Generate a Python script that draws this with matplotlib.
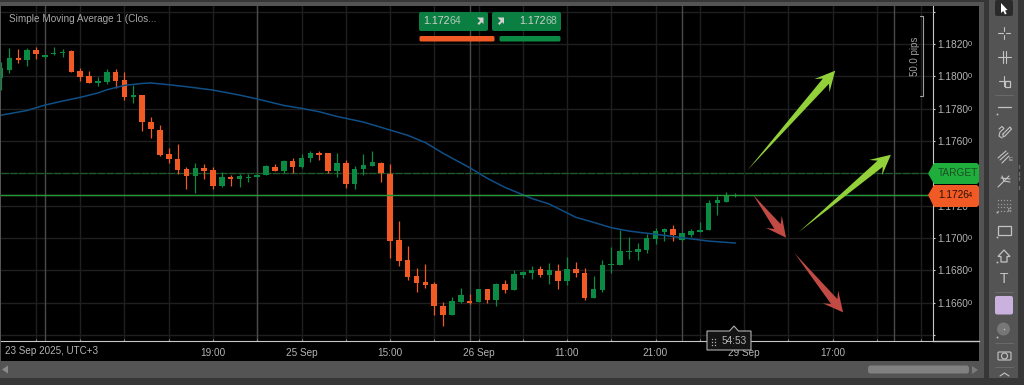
import numpy as np
import matplotlib
matplotlib.use('Agg')
import matplotlib.pyplot as plt
from matplotlib.patches import FancyBboxPatch, Polygon, Rectangle, Circle

plt.rcParams['font.family'] = ['Liberation Sans', 'DejaVu Sans']

# candle values, one entry per bar, in units of 1e-5 price
opens = [117987, 118039, 118113, 118101, 118163, 118119, 118140, 118142, 118157, 118035,
         118000, 117961, 117965, 118025, 117977, 117872, 117884, 117719, 117670, 117519,
         117490, 117427, 117385, 117433, 117418, 117321, 117375, 117365, 117373, 117379,
         117389, 117441, 117416, 117476, 117441, 117495, 117526, 117523, 117416, 117462,
         117332, 117427, 117447, 117466, 117398, 116985, 116864, 116765, 116728, 116713,
         116581, 116524, 116604, 116610, 116606, 116682, 116616, 116717, 116678, 116773,
         116781, 116806, 116771, 116796, 116732, 116810, 116785, 116631, 116678, 116835,
         116835, 116913, 116913, 116926, 116994, 117039, 117058, 116985, 117018, 117039,
         117049, 117214, 117225, 117260]
highs = [118091, 118177, 118167, 118177, 118181, 118132, 118181, 118167, 118161, 118049,
         118035, 117994, 118043, 118043, 118027, 117948, 117886, 117748, 117699, 117554,
         117579, 117437, 117466, 117457, 117437, 117406, 117389, 117396, 117398, 117396,
         117451, 117455, 117482, 117495, 117521, 117540, 117536, 117528, 117523, 117482,
         117445, 117520, 117538, 117470, 117458, 117105, 116950, 116814, 116839, 116726,
         116604, 116633, 116693, 116653, 116686, 116684, 116719, 116742, 116802, 116796,
         116827, 116827, 116843, 116839, 116882, 116851, 116814, 116765, 116864, 116946,
         117049, 117004, 116971, 117025, 117060, 117064, 117078, 117033, 117058, 117097,
         117233, 117260, 117287, 117280]
lows = [117915, 118022, 118080, 118066, 118107, 118113, 118132, 118119, 118025, 117971,
        117958, 117942, 117954, 117926, 117855, 117837, 117662, 117616, 117507, 117462,
        117394, 117301, 117280, 117365, 117301, 117317, 117321, 117317, 117344, 117377,
        117387, 117412, 117404, 117402, 117435, 117470, 117484, 117402, 117379, 117311,
        117305, 117390, 117445, 117346, 116876, 116829, 116738, 116668, 116691, 116524,
        116456, 116522, 116596, 116592, 116604, 116598, 116581, 116662, 116676, 116752,
        116746, 116761, 116717, 116684, 116709, 116761, 116616, 116627, 116668, 116781,
        116833, 116872, 116864, 116909, 116961, 116983, 116981, 116983, 117008, 117037,
        117047, 117142, 117223, 117256]
closes = [118049, 118111, 118103, 118163, 118138, 118130, 118146, 118148, 118029, 117996,
          117961, 117971, 118025, 117971, 117870, 117884, 117715, 117672, 117513, 117490,
          117422, 117385, 117433, 117412, 117321, 117377, 117365, 117383, 117379, 117389,
          117447, 117416, 117476, 117441, 117495, 117526, 117515, 117416, 117462, 117332,
          117425, 117451, 117470, 117400, 116981, 116860, 116761, 116724, 116709, 116577,
          116524, 116610, 116649, 116596, 116684, 116616, 116717, 116678, 116777, 116790,
          116804, 116771, 116802, 116732, 116808, 116785, 116631, 116684, 116835, 116839,
          116917, 116919, 116932, 117000, 117043, 117058, 117018, 117029, 117043, 117049,
          117216, 117233, 117266, 117264]

# moving average, read at these bars
ma_bars = [0, 3, 5, 7, 9, 11, 12, 14, 16, 17, 19, 21, 24, 27, 29, 32, 34, 36, 38, 41, 44, 46, 48,
           50, 53, 55, 57, 60, 62, 65, 67, 69, 71, 74, 77, 80, 83]
ma_vals = [117759, 117789, 117822, 117847, 117870, 117897, 117917, 117944, 117956, 117959,
           117948, 117936, 117915, 117884, 117860, 117820, 117802, 117781, 117752, 117717,
           117668, 117635, 117590, 117524, 117435, 117369, 117313, 117245, 117210, 117128,
           117097, 117064, 117043, 117023, 117002, 116981, 116969]

price_grid = [1.1640, 1.1660, 1.1680, 1.1700, 1.1720, 1.1740, 1.1760, 1.1780, 1.1800, 1.1820, 1.1840]
price_labels = ['', '1.1660', '1.1680', '1.1700', '1.1720', '', '1.1760', '1.1780', '1.1800', '1.1820', '']
small_zero_prices = [1.1660, 1.1680, 1.1700, 1.1760, 1.1780, 1.1800, 1.1820]
time_grid = [4, 9, 14, 19, 24, 29, 34, 39, 44, 49, 54, 59, 64, 69, 74, 79, 84, 89, 94, 99, 104]
session_lines = [5, 29, 53, 77, 101]
time_bars = [24, 34, 44, 54, 64, 74, 84, 94]
time_labels = ['19:00', '25 Sep', '15:00', '26 Sep', '11:00', '21:00', '29 Sep', '17:00']

target_price = 1.17400
last_price = 1.17266

# hand drawn arrows on the chart: tail bar, tail price, tip bar, tip price
up_arrows = [(84.4, 1.17420, 94.3, 1.18035), (90.2, 1.17037, 100.6, 1.17515)]
down_arrows = [(85.05, 1.17266, 88.75, 1.17002), (89.7, 1.16907, 95.2, 1.16540)]

GREEN = '#0a8a43'
ORANGE = '#f15a24'
CHROME = '#545454'
DARK = '#363636'
TXT = '#b4b4b4'
ICON = '#c4c4c4'

W, H = 1024, 385
fig = plt.figure(figsize=(W / 100, H / 100), dpi=100, facecolor=CHROME)


def px_axes(left, top, right, bottom):
    return [left / W, 1 - bottom / H, (right - left) / W, (bottom - top) / H]


def draw_arrow(ax, x0, y0, x1, y1, color):
    # tapered arrow, head size is the same in pixels whatever the length
    a = ax.transData.transform((x0, y0))
    b = ax.transData.transform((x1, y1))
    d = (b - a) / np.hypot(*(b - a))
    n = np.array([-d[1], d[0]])
    pts = [a, b - d * 14 + n * 4, b - d * 20 + n * 10, b,
           b - d * 20 - n * 10, b - d * 14 - n * 4]
    ax.add_patch(Polygon(ax.transData.inverted().transform(pts), color=color, lw=0, zorder=7))


def line(a, xs, ys, lw=0.8, color=ICON):
    a.plot(xs, ys, color=color, lw=lw, solid_capstyle='round')


# black panel behind the chart and the chrome around it
ui = fig.add_axes([0, 0, 1, 1], zorder=0)
ui.set_xlim(0, W)
ui.set_ylim(H, 0)
ui.axis('off')
ui.add_patch(Rectangle((1, 6), 978, 355, color='black', lw=0))
ui.add_patch(Rectangle((0, 0), 984, 2, color=DARK, lw=0))
ui.add_patch(Rectangle((0, 378), 1024, 7, color=DARK, lw=0))
ui.add_patch(Rectangle((984, 0), 5, 385, color=DARK, lw=0))
ui.add_patch(Rectangle((1018, 0), 6, 385, color=DARK, lw=0))

ax = fig.add_axes(px_axes(1, 6, 933, 341), zorder=1)
ax.set_facecolor('none')
ax.set_xlim((1 - 0.6) / 8.85, (933 - 0.6) / 8.85)
ax.set_ylim(1.16363, 1.18435)

# grid
for p in price_grid:
    ax.axhline(p, color='#1f1f1f', lw=1, zorder=1)
for t in time_grid:
    ax.axvline(t, color='#1f1f1f', lw=1, zorder=1)
for t in session_lines:
    ax.axvline(t, color='#4a4a4a', lw=1, zorder=1)

o = np.array(opens) / 1e5
h = np.array(highs) / 1e5
l = np.array(lows) / 1e5
c = np.array(closes) / 1e5
bars = np.arange(len(o))
colors = [GREEN if c[i] >= o[i] else ORANGE for i in bars]

ax.vlines(bars, l, h, colors=colors, lw=0.9, zorder=3)
ax.bar(bars, np.maximum(np.abs(c - o), 0.00003), bottom=np.minimum(o, c), width=0.63,
       color=colors, lw=0, zorder=4)

ax.plot(ma_bars, np.array(ma_vals) / 1e5, color='#0f4f86', lw=1.1, zorder=5)

ax.axhline(target_price, color='#1d5c2a', lw=0.9, ls=(0, (6, 1)), zorder=2)
ax.axhline(last_price - 0.00003, color=ORANGE, lw=0.8, zorder=6)
ax.axhline(last_price, color='#1f9a3c', lw=1.0, zorder=6)

for x0, y0, x1, y1 in up_arrows:
    draw_arrow(ax, x0, y0, x1, y1, '#93d13b')
for x0, y0, x1, y1 in down_arrows:
    draw_arrow(ax, x0, y0, x1, y1, '#c24a45')

# axes
for s in ['top', 'left']:
    ax.spines[s].set_visible(False)
ax.spines['right'].set_color('#c8c8c8')
ax.spines['bottom'].set_color('#c8c8c8')
ax.yaxis.tick_right()
ax.set_yticks(price_grid)
ax.set_yticklabels(price_labels, fontsize=7.3, color=TXT)
ax.tick_params(axis='y', length=1.5, width=0.8, color='#c8c8c8', pad=1.6)
ax.set_xticks(time_grid, minor=True)
ax.set_xticks(time_bars)
ax.set_xticklabels(time_labels, fontsize=7.2, color=TXT)
ax.tick_params(axis='x', which='both', length=1.5, width=0.8, color='#888888', pad=5, direction='in')

# everything on top: tags, buttons, toolbar
top = fig.add_axes([0, 0, 1, 1], zorder=2)
top.set_xlim(0, W)
top.set_ylim(H, 0)
top.axis('off')
top.patch.set_alpha(0)

line(top, [933, 979], [341, 341], lw=1, color='#c8c8c8')
for p in small_zero_prices:
    y = 43.9 + (1.1820 - p) / 0.0020 * 32.33
    top.text(967.8, y + 0.6, '0', fontsize=5.5, color=TXT, ha='left', va='center')

top.text(9, 19.5, 'Simple Moving Average 1 (Clos...', fontsize=7.2, color='#a8a8a8', va='center')
top.text(5, 351, '23 Sep 2025, UTC+3', fontsize=7.1, color=TXT, va='center')

# 50 pips ruler
top.text(915, 56.5, '50.0 pips', fontsize=7, color='#a0a0a0', rotation=90, ha='center', va='center')
line(top, [920, 923, 923, 920], [16, 16, 96, 96], color='#a0a0a0')

# target / last price tags
top.add_patch(Polygon([[928, 173.5], [934, 163], [977, 163], [979, 165], [979, 182], [977, 184], [934, 184]],
                      color='#1fae3b', lw=0))
top.text(938, 173, 'TARGET', fontsize=7.3, color='#1c4f26', va='center')
top.add_patch(Polygon([[928, 195], [934, 185], [977, 185], [979, 187], [979, 205], [977, 207], [934, 207]],
                      color=ORANGE, lw=0))
top.text(938, 194.5, '1.1726', fontsize=7.3, color='#2a1208', va='center')
top.text(967.8, 195.2, '4', fontsize=5.5, color='#2a1208', va='center')

# buy / sell buttons
for x0, w in [(419, 69), (492, 69)]:
    top.add_patch(FancyBboxPatch((x0 + 2, 14), w - 4, 15, boxstyle='round,pad=2', color='#0b7f41', lw=0))
top.text(423.3, 21.5, '1.172', fontsize=7.7, color='#d0d0d0', va='center')
top.text(450, 21.5, '64', fontsize=7.6, color='#a8c8b4', va='center')
top.text(519, 21.5, '1.172', fontsize=7.7, color='#d0d0d0', va='center')
top.text(546, 21.5, '68', fontsize=7.6, color='#a8c8b4', va='center')
for x0 in [477, 497.5]:
    top.add_patch(Polygon([[x0, 17.5], [x0 + 6.5, 17.5], [x0 + 6.5, 24], [x0 + 4.7, 22.2], [x0 + 2, 25],
                           [x0 + 0.5, 23.5], [x0 + 3.2, 20.8], [x0 + 1.5, 19]], color='#d0d0d0', lw=0))
top.add_patch(FancyBboxPatch((421, 37.5), 72, 2.5, boxstyle='round,pad=1.5', color=ORANGE, lw=0))
top.add_patch(FancyBboxPatch((501, 37.5), 58, 2.5, boxstyle='round,pad=1.5', color=GREEN, lw=0))

# countdown box
top.add_patch(Polygon([[707, 331], [729.5, 331], [734, 326], [738.5, 331], [751, 331], [751, 350], [707, 350]],
                      facecolor='#141414', edgecolor='#b0b0b0', lw=0.8))
for gx in [711.5, 714.5]:
    for gy in [338.5, 341.5, 344.5]:
        top.plot([gx], [gy], 's', ms=0.9, color='#b0b0b0', mew=0)
top.text(734, 340.5, '54:53', fontsize=7.2, color=TXT, va='center', ha='center')

# scroll bar
top.add_patch(Rectangle((0, 361), 984, 17, color=CHROME, lw=0))
top.add_patch(FancyBboxPatch((870.5, 368), 96, 3, boxstyle='round,pad=2.5', color='#808080', lw=0))
top.add_patch(Polygon([[2, 369.5], [8, 365.5], [8, 373.5]], color='#8a8a8a', lw=0))
top.add_patch(Polygon([[978, 370], [972, 366], [972, 374]], color='#7a7a7a', lw=0))

# toolbar
top.add_patch(FancyBboxPatch((997, 2), 14, 12, boxstyle='round,pad=2', color='#2a2a2a', lw=0))
top.add_patch(Polygon([[1001, 3], [1001, 13], [1003.2, 11], [1005, 14.5], [1006.6, 13.6], [1005, 10.5], [1007.5, 10]],
                      color='white', lw=0))
line(top, [998, 1002.5], [33, 33])
line(top, [1005.5, 1010], [33, 33])
line(top, [1004, 1004], [27, 31])
line(top, [1004, 1004], [35, 39])
line(top, [998, 1011], [57, 57])
line(top, [1003, 1003], [51, 63])
line(top, [1005.5, 1005.5], [51, 63])
line(top, [999, 1009], [81, 81])
line(top, [1004, 1004], [76, 86])
top.add_patch(Rectangle((1005, 81), 5, 6, fc=CHROME, ec=ICON, lw=0.9))
for yy in [95, 292, 343, 367]:
    line(top, [995, 1013], [yy, yy], lw=0.6, color='#6e6e6e')
line(top, [998, 1011], [107, 107], lw=0.9)
top.plot([996.5], [114], 's', ms=1.2, color=ICON, mew=0)
line(top, [999, 1002, 1004, 1000, 999, 1002], [129, 126.5, 128.5, 132, 136, 138])
line(top, [1003, 1010, 1011.5, 1005, 1003, 1003], [134, 127, 129, 136, 137, 134])
line(top, [998, 1006], [158, 151])
line(top, [1000, 1008], [160, 153])
line(top, [1002, 1009], [163, 156])
top.text(1011, 159.5, 'E', fontsize=4.5, color=ICON, ha='center', va='center')
line(top, [998, 1004], [187, 181])
line(top, [1004, 1009], [181, 176])
line(top, [1001, 1010], [178, 179])
line(top, [1002, 1004, 1010], [176, 181, 182])
for yy in [200, 203.5, 207, 210.5]:
    for xx in [998, 1001, 1004, 1007, 1010]:
        top.plot([xx], [yy], 's', ms=0.9, color='#9a9a9a', mew=0)
top.text(1009.5, 210, 'F', fontsize=4.5, color=ICON, ha='center', va='center')
top.plot([997], [212], 's', ms=1.2, color=ICON, mew=0)
top.add_patch(Rectangle((998, 226), 13, 9, fc='none', ec=ICON, lw=0.9))
top.plot([997], [237], 's', ms=1.2, color=ICON, mew=0)
top.add_patch(Polygon([[1004, 250], [1010, 256.5], [1007, 256.5], [1007, 262], [1001, 262], [1001, 256.5], [998, 256.5]],
                      fc='none', ec=ICON, lw=0.9))
top.plot([997], [262], 's', ms=1.2, color=ICON, mew=0)
top.text(1004.5, 279, 'T', fontsize=10, color=ICON, ha='center', va='center')
top.add_patch(FancyBboxPatch((997, 298), 14, 14.5, boxstyle='round,pad=2', color='#c9b2dd', lw=0))
top.add_patch(Circle((1003.5, 329), 6.5, color='#777777', lw=0))
top.plot([1003.5], [329], 's', ms=0.9, color='#cccccc', mew=0)
top.plot([997], [336.5], 's', ms=1.2, color=ICON, mew=0)
top.add_patch(FancyBboxPatch((999, 353), 11, 6, boxstyle='round,pad=1', fc='none', ec=ICON, lw=0.8))
top.add_patch(Circle((1004.5, 356), 3, fc='none', ec=ICON, lw=0.8))
line(top, [1000, 1004.5, 1009], [376, 373, 376])
for yy in [166, 173, 178, 187]:
    line(top, [1019, 1019], [yy - 1.5, yy + 1.5], lw=1, color='#6a6a6a')

fig.savefig('out.png', dpi=100, facecolor=CHROME)
